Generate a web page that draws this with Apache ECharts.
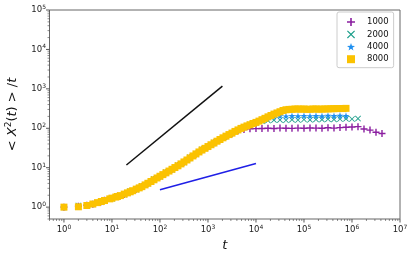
<!DOCTYPE html>
<html><head><meta charset="utf-8">
<script src="https://cdn.jsdelivr.net/npm/echarts@6/dist/echarts.min.js"></script>
<style>html,body{margin:0;padding:0;background:#fff}#c{width:415px;height:261px}</style>
</head><body><div id="c"></div>
<script>
// Time steps t for the N=1000, 2000, 4000 runs
const tSteps = [1, 2, 3, 4, 6, 7, 10, 13, 18, 24, 32, 42, 56, 75, 100, 133, 178, 237, 316, 422, 562, 750,
  1000, 1334, 1778, 2371, 3162, 4217, 5623, 7499, 10000, 13335, 17783, 23714, 31623, 42170, 56234, 74989,
  100000, 133352, 177828, 237137, 316228, 421697, 562341, 749894, 1000000, 1333521, 1778279, 2371374, 3162278, 4216965];

// Denser time steps for the N=8000 run
const tSteps8000 = [1, 2, 3, 4, 5, 6, 7, 9, 10, 12, 13, 15, 18, 21, 24, 27, 32, 37, 42, 49, 56, 65, 75, 87,
  100, 115, 133, 154, 178, 205, 237, 274, 316, 365, 422, 487, 562, 649, 750, 866,
  1000, 1155, 1334, 1540, 1778, 2054, 2371, 2738, 3162, 3652, 4217, 4870, 5623, 6494, 7499, 8660,
  10000, 11548, 13335, 15399, 17783, 20535, 23714, 27384, 31623, 36517, 42170, 48697, 56234, 64938, 74989, 86596,
  100000, 115478, 133352, 153993, 177828, 205353, 237137, 273842, 316228, 365174, 421697, 486968, 562341, 649382, 749894];

const seriesNames = ['1000', '2000', '4000', '8000'];

const y1000 = [1.00, 1.05, 1.12, 1.19, 1.37, 1.49, 1.66, 1.88, 2.10, 2.50, 2.83, 3.36, 4.00, 5.02, 6.00, 7.50, 9.00, 11.3, 13.8, 17.9, 22.0, 28.4,
  34.0, 42.8, 51.5, 62.0, 73.0, 86.0, 93.0, 97.0, 98.0, 99.0, 100, 98.5, 101, 100, 99.5, 101, 100, 102, 101, 100, 103, 101, 104, 106, 108, 110, 96, 90, 79, 74];

const y2000 = [1.00, 1.10, 1.13, 1.18, 1.33, 1.52, 1.64, 1.92, 2.08, 2.55, 2.80, 3.45, 3.95, 5.15, 5.90, 7.70, 8.90, 11.6, 13.6, 18.3, 21.8, 29.0,
  33.6, 43.5, 51.0, 64.5, 76.0, 91.5, 108, 125, 138, 150, 157, 161, 163, 160, 165, 162, 167, 164, 168, 166, 170, 168, 172, 174, 172, 176];

const y4000 = [1.00, 1.04, 1.11, 1.20, 1.38, 1.48, 1.70, 1.85, 2.15, 2.46, 2.88, 3.30, 4.08, 4.95, 6.10, 7.40, 9.15, 11.1, 14.1, 17.6, 22.5, 28.0,
  34.6, 42.0, 52.3, 62.8, 75.8, 90.5, 107, 124, 142, 166, 190, 200, 205, 202, 206, 204, 208, 205, 207, 204, 209, 206, 210, 208];

const y8000 = [1.00, 1.02, 1.10, 1.20, 1.30, 1.39, 1.47, 1.62, 1.69, 1.80, 1.86, 1.96, 2.14, 2.30, 2.45, 2.61, 2.86, 3.08, 3.31, 3.66, 4.03, 4.47, 4.94, 5.49,
  6.07, 6.68, 7.41, 8.22, 9.12, 10.1, 11.2, 12.5, 14.0, 15.7, 17.7, 19.9, 22.4, 25.1, 28.1, 31.0,
  34.4, 38.2, 42.3, 47.0, 52.0, 57.3, 63.1, 69.2, 75.5, 83.2, 90.8, 99.3, 107, 115, 123, 132,
  141, 152, 165, 179, 195, 211, 229, 245, 263, 282, 295, 301, 303, 308, 309, 305,
  309, 302, 304, 308, 309, 305, 307, 309, 310, 313, 314, 316, 318, 316, 320];

// Guide lines (slope 1 and slope 1/3)
const guideSlope1 = [[20, 11.7], [2000, 1170]];
const guideSlope13 = [[100, 2.75], [10000, 12.8]];

// Axis ranges
const X_MIN = 0.5, X_MAX = 1e7, Y_MIN = 0.5, Y_MAX = 1e5;

const FONT = 'DejaVu Sans';
const colors = {'1000': '#8b1fa0', '2000': '#1b9e8a', '4000': '#1e8ff0', '8000': '#fbc200'};
const symbols = {
  '1000': 'path://M4,0L6,0L6,4L10,4L10,6L6,6L6,10L4,10L4,6L0,6L0,4L4,4Z',
  '2000': 'path://M1,0L5,4L9,0L10,1L6,5L10,9L9,10L5,6L1,10L0,9L4,5L0,1Z',
  '4000': 'path://M50,0L61.8,35.1L98.9,35.5L69.1,57.7L80.2,93.1L50,71.6L19.8,93.1L30.9,57.7L1.1,35.5L38.2,35.1Z',
  '8000': 'rect'
};
const sizes = {'1000': 7, '2000': 6, '4000': 7, '8000': 7};

function pairs(ts, ys) { return ys.map((v, i) => [ts[i], v]); }
const seriesData = {
  '1000': pairs(tSteps, y1000), '2000': pairs(tSteps, y2000),
  '4000': pairs(tSteps, y4000), '8000': pairs(tSteps8000, y8000)
};

// Tick marks (major + minor), positioned through the axis scales
const tickData = [];
function addTicks(min, max, isX) {
  for (let e = -1; e <= 8; e++) {
    for (let m = 1; m <= 9; m++) {
      const v = m * Math.pow(10, e);
      if (v < min * 0.9999 || v > max * 1.0001) continue;
      const kind = (isX ? 0 : 2) + (m === 1 ? 0 : 1);
      tickData.push(isX ? [v, Y_MIN, kind] : [X_MIN, v, kind]);
    }
  }
}
addTicks(X_MIN, X_MAX, true);
addTicks(Y_MIN, Y_MAX, false);

function powLabel(v) {
  const l = Math.log10(v);
  const e = Math.round(l);
  if (Math.abs(l - e) > 1e-6) return '';
  return '{b|10}{s|' + e + '}';
}
const labelRich = {
  b: {fontSize: 8.5, fontFamily: FONT, color: '#222'},
  s: {fontSize: 6, fontFamily: FONT, color: '#222', padding: [0, 0, 5, 0]}
};

const chart = echarts.init(document.getElementById('c'), null, {renderer: 'canvas'});
const series = seriesNames.map(n => ({
  name: n, type: 'scatter', data: seriesData[n], symbol: symbols[n], symbolSize: sizes[n],
  itemStyle: {color: colors[n], opacity: 1}, silent: true
}));
series.push({name: 'slope1', type: 'line', data: guideSlope1, showSymbol: false, symbol: 'none',
  lineStyle: {color: '#111', width: 1.5}, silent: true, z: 3});
series.push({name: 'slope13', type: 'line', data: guideSlope13, showSymbol: false, symbol: 'none',
  lineStyle: {color: '#1f1fe6', width: 1.5}, silent: true, z: 3});
series.push({
  name: 'ticks', type: 'custom', data: tickData, silent: true, clip: false,
  renderItem: function (params, api) {
    const kind = api.value(2);
    const p = api.coord([api.value(0), api.value(1)]);
    const len = (kind % 2 === 0) ? 3.5 : 2;
    const lw = (kind % 2 === 0) ? 0.9 : 0.6;
    if (kind < 2) {
      return {type: 'line', shape: {x1: p[0], y1: p[1], x2: p[0], y2: p[1] + len}, style: {stroke: '#444', lineWidth: lw}};
    }
    return {type: 'line', shape: {x1: p[0], y1: p[1], x2: p[0] - len, y2: p[1]}, style: {stroke: '#444', lineWidth: lw}};
  }
});

chart.setOption({
  animation: false,
  backgroundColor: '#fff',
  grid: {left: 49.5, top: 10, right: 15, bottom: 42, show: true, borderColor: '#666', borderWidth: 1,
    backgroundColor: 'transparent', containLabel: false, outerBoundsMode: 'none'},
  legend: {
    data: seriesNames, left: 337, top: 12, orient: 'vertical',
    itemWidth: 8, itemHeight: 8, itemGap: 3.4,
    padding: [5.5, 5, 4, 10],
    borderColor: '#ccc', borderWidth: 1, borderRadius: 2, backgroundColor: 'rgba(255,255,255,0.8)',
    textStyle: {fontSize: 8.5, fontFamily: FONT, color: '#111', padding: [0, 0, 0, 7]}
  },
  xAxis: {
    type: 'log', logBase: 10, min: X_MIN, max: X_MAX, splitNumber: 10,
    axisLine: {show: false}, axisTick: {show: false}, splitLine: {show: false}, minorTick: {show: false},
    axisLabel: {formatter: powLabel, rich: labelRich, margin: 5, showMinLabel: true, showMaxLabel: true, hideOverlap: false},
    name: '{i|t}', nameLocation: 'middle', nameGap: 19,
    nameTextStyle: {rich: {i: {fontSize: 13, fontStyle: 'italic', fontFamily: FONT, color: '#111'}}}
  },
  yAxis: {
    type: 'log', logBase: 10, min: Y_MIN, max: Y_MAX, splitNumber: 10,
    axisLine: {show: false}, axisTick: {show: false}, splitLine: {show: false}, minorTick: {show: false},
    axisLabel: {formatter: powLabel, rich: labelRich, margin: 3.5, showMinLabel: true, showMaxLabel: true, hideOverlap: false},
    name: '{n|< }{i|X}{s|2}{n|(}{i|t}{n|) > /}{i|t}', nameLocation: 'middle', nameGap: 28, nameRotate: 90,
    nameTextStyle: {rich: {
      n: {fontSize: 13, fontFamily: FONT, color: '#111'},
      i: {fontSize: 13, fontFamily: FONT, fontStyle: 'italic', color: '#111'},
      s: {fontSize: 9, fontFamily: FONT, color: '#111', padding: [0, 0, 8, 0]}
    }}
  },
  series: series
});
</script>
</body></html>
